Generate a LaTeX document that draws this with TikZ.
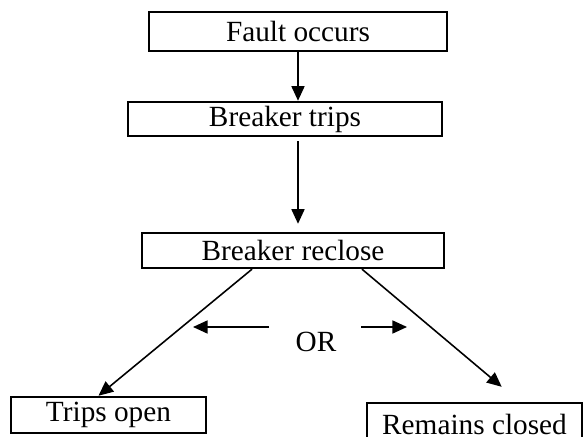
\documentclass[tikz,border=0pt]{standalone}
\usepackage{fontspec}
\setmainfont{Liberation Serif}
\usetikzlibrary{arrows.meta,calc}
\tikzset{
  box/.style={draw, line width=1.1pt, inner sep=0pt, font=\fontsize{13}{15}\selectfont},
  link/.style={-{Triangle[length=6.5pt,width=5.8pt]}, line width=0.7pt},
}
\begin{document}
\begin{tikzpicture}[x=0.444pt, y=-0.444pt]
    \useasboundingbox (0,0) rectangle (585,437);
    \node[box, minimum width=132.3pt, minimum height=17.3pt] (fault) at (298,31.5) {Fault occurs};
    \node[box, minimum width=139.4pt, minimum height=15.1pt] (trips) at (285,119) {Breaker trips};
    \node[box, minimum width=134.1pt, minimum height=15.5pt] (reclose) at (293,250.5) {Breaker reclose};
    \node[box, minimum width=86.6pt, minimum height=16pt] (open) at (108.5,415) {Trips open};
    \node[box, minimum width=95.5pt, minimum height=18.6pt] (closed) at (474.5,424) {Remains closed};
    \node[font=\fontsize{13}{15}\selectfont] (or) at (316,342) {OR};
    \coordinate (orl) at (269,327);
    \coordinate (orlt) at (193,327);
    \coordinate (orr) at (361,327);
    \coordinate (orrt) at (407,327);
    \draw[link] (fault.south) -- (fault.south |- trips.north);
    \draw[link] ($(fault.south |- trips.south)+(0,4)$) -- ($(fault.south |- reclose.north)+(0,-8)$);
    \draw[link] ($(reclose.south)+(-41,0)$) -- ($(open.north)+(-10,0)$);
    \draw[link] ($(reclose.south)+(69,0)$) -- ($(closed.north west)+(136,-15)$);
    \draw[link] (orl) -- (orlt);
    \draw[link] (orr) -- (orrt);
\end{tikzpicture}
\end{document}
